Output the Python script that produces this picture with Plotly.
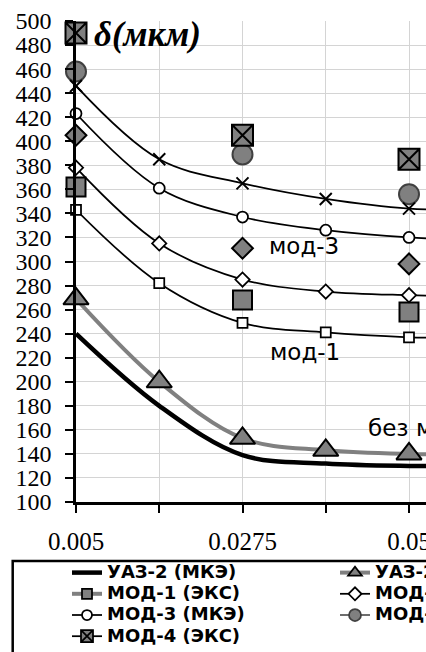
import plotly.graph_objects as go

# ---- data ----
x_vals = [0.005, 0.01625, 0.0275, 0.03875, 0.05, 0.06125]
uaz2_mke = [240, 180, 139, 132, 130, 130]
uaz2_eks = [269, 200, 153, 143, 140, 140]
mod1_mke = [343, 282, 249, 241, 237, 236]
mod1_eks = [362, None, 268, None, 258, None]
mod2_mke = [378, 315, 285, 275, 272, 271]
mod2_eks = [405, None, 311, None, 298, None]
mod3_mke = [423, 361, 337, 326, 320, 318]
mod3_eks = [458, None, 389, None, 356, None]
mod4_mke = [446, 385, 365, 352, 344, 343]
mod4_eks = [490, None, 405, None, 385, None]

tick_vals = [0.005, 0.01625, 0.0275, 0.03875, 0.05, 0.06125, 0.0725, 0.08375, 0.095, 0.10625]
tick_text = ["0.005", "", "0.0275", "", "0.05", "", "0.0725", "", "0.095", ""]

labels = ["мод-3", "мод-1", "без мод."]
label_x = [0.0358, 0.0360, 0.04417]
label_y = [313, 225, 161.5]

W, H = 900, 720
L, R, T, B = 76, 20, 21, 218
PX_PER_UNIT = 7400.0
gw = W - L - R
x_range = [0.005, 0.005 + gw / PX_PER_UNIT]

BLACK = "#000000"
GRAY = "#808080"
DGRAY = "#404040"


def nm(s):
    return '<span style="font-size:18px"><b>' + s + '</b></span>'


fig = go.Figure()
series = []

def add(name, y, lcolor, lwidth, symbol=None, msize=0, mfill=None, mline=BLACK, mlw=1.5, legsize=10):
    series.append((name, lcolor, lwidth, symbol, legsize, mfill, mline, mlw))
    mode = "lines+markers" if symbol else "lines"
    fig.add_trace(go.Scatter(
        x=x_vals, y=y, name=nm(name), mode=mode, showlegend=False, legendgroup=name,
        line=dict(color=lcolor, width=lwidth, shape="spline", smoothing=1.0),
        marker=dict(symbol=symbol or "circle", size=msize, color=mfill,
                    line=dict(color=mline, width=mlw)),
        connectgaps=False, cliponaxis=False, hoverinfo="skip"))

add("УАЗ-2 (МКЭ)", uaz2_mke, BLACK, 4.5)
add("УАЗ-2 (ЭКС)", uaz2_eks, GRAY, 4, "triangle-up", 22, GRAY, BLACK, 2, 12)
add("МОД-1 (МКЭ)", mod1_mke, BLACK, 1.75, "square", 10, "white", BLACK, 1.75, 9)
add("МОД-1 (ЭКС)", mod1_eks, GRAY, 4, "square", 19, GRAY, BLACK, 2, 10)
add("МОД-2 (МКЭ)", mod2_mke, BLACK, 1.75, "diamond", 11, "white", BLACK, 1.75, 10)
add("МОД-2 (ЭКС)", mod2_eks, BLACK, 1.75, "diamond", 16, GRAY, BLACK, 2, 10)
add("МОД-3 (МКЭ)", mod3_mke, BLACK, 1.75, "circle", 11, "white", BLACK, 1.75, 10)
add("МОД-3 (ЭКС)", mod3_eks, "#595959", 1.75, "circle", 20, GRAY, DGRAY, 2, 12)
add("МОД-4 (МКЭ)", mod4_mke, BLACK, 1.75, "x-thin", 12, BLACK, BLACK, 2, 11)
add("МОД-4 (ЭКС)", mod4_eks, BLACK, 1.75, "square-x", 21, GRAY, BLACK, 2, 12)

# legend entries (same styles, legend-sized symbols, no plotted marks)
for name, lcolor, lwidth, symbol, legsize, mfill, mline, mlw in series:
    fig.add_trace(go.Scatter(
        x=[None], y=[None], name=nm(name), legendgroup=name,
        mode="lines+markers" if symbol else "lines",
        line=dict(color=lcolor, width=lwidth),
        marker=dict(symbol=symbol or "circle", size=legsize, color=mfill,
                    line=dict(color=mline, width=min(mlw, 1.75))),
        hoverinfo="skip"))

axis_common = dict(
    showline=True, linecolor=BLACK, linewidth=2.5,
    ticks="outside", ticklen=8, tickwidth=2, tickcolor=BLACK,
    showgrid=True, gridcolor="#d4d4d4", gridwidth=1,
    zeroline=False,
)

fig.update_xaxes(range=x_range, tickmode="array", tickvals=tick_vals,
                 ticktext=tick_text, ticklabelstandoff=7,
                 tickfont=dict(family="Liberation Serif", size=25, color=BLACK),
                 **axis_common)
fig.update_yaxes(range=[100, 500], tickmode="linear", tick0=100, dtick=20,
                 ticklabelstandoff=9,
                 tickfont=dict(family="Liberation Serif", size=24, color=BLACK),
                 **axis_common)

annotations = [dict(x=0.0071, y=488.5, xref="x", yref="y", xanchor="left", yanchor="middle",
                    text="<b><i>δ(мкм)</i></b>", showarrow=False,
                    font=dict(family="Liberation Serif", size=35, color=BLACK))]
for t, xv, yv in zip(labels, label_x, label_y):
    annotations.append(dict(x=xv, y=yv, xref="x", yref="y",
                            xanchor="left" if t.startswith("без") else "center",
                            yanchor="middle", text=t, showarrow=False,
                            font=dict(family="DejaVu Sans", size=23, color=BLACK)))

gh = H - T - B
leg_left_px = 67
leg_top_px = 557
fig.update_layout(
    width=W, height=H,
    margin=dict(l=L, r=R, t=T, b=B, autoexpand=False),
    paper_bgcolor="white", plot_bgcolor="white",
    showlegend=True,
    legend=dict(orientation="h", x=(leg_left_px - L) / gw, xanchor="left",
                y=-(leg_top_px - (T + gh)) / gh, yanchor="top",
                entrywidth=223, entrywidthmode="pixels",
                font=dict(family="DejaVu Sans", size=14, color=BLACK),
                bgcolor="rgba(0,0,0,0)", borderwidth=0,
                traceorder="normal", itemclick=False, itemdoubleclick=False),
    annotations=annotations,
    shapes=[dict(type="rect", xref="paper", yref="paper",
                 x0=(12.7 - L) / gw, x1=(W - 10 - L) / gw,
                 y0=-(H + 20 - T - gh) / gh, y1=-(561 - (T + gh)) / gh,
                 line=dict(color=BLACK, width=2.5), fillcolor="rgba(0,0,0,0)",
                 layer="above")],
)

post = ("document.documentElement.style.overflow='hidden';"
        "document.body.style.overflow='hidden';document.body.style.margin='0';")
fig.write_html("out.html", post_script=post)
